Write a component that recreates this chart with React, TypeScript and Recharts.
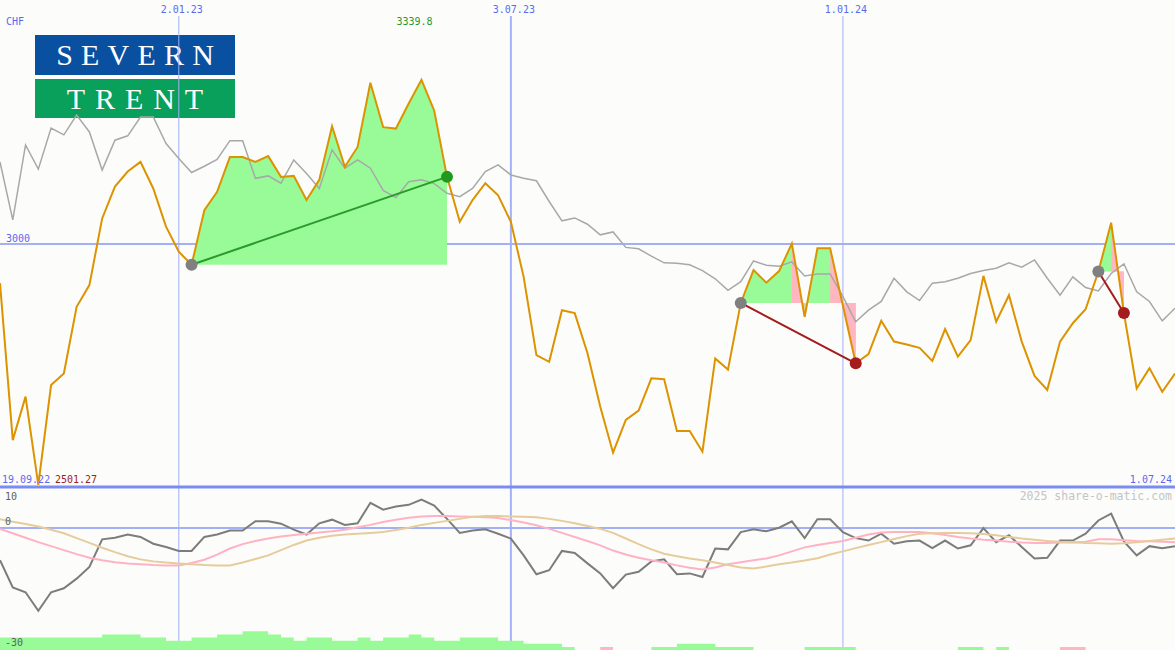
import React from "react";
import { Area, ComposedChart, Line, ReferenceLine, XAxis, YAxis } from "recharts";

// weekly closes, CHF
const price = [
  2919, 2594, 2684, 2501.27, 2708, 2732, 2870, 2915, 3053, 3119,
  3150, 3170, 3115, 3036, 2984, 2957, 3070, 3108, 3180, 3180,
  3170, 3182, 3139, 3141, 3091, 3133, 3244, 3160, 3201, 3334,
  3242, 3239, 3291, 3339.8, 3276, 3139, 3046, 3091, 3126, 3101,
  3046, 2932, 2770, 2756, 2863, 2857, 2774, 2663, 2568, 2636,
  2655, 2722, 2720, 2613, 2613, 2570, 2763, 2740, 2878, 2946,
  2920, 2944, 3001, 2849, 2991, 2991, 2872, 2753, 2772, 2841,
  2798, 2792, 2785, 2758, 2824, 2767, 2801, 2934, 2839, 2894,
  2798, 2727, 2698, 2798, 2836, 2865, 2943, 3044, 2857, 2701,
  2743, 2694, 2732,
];

// comparison index, rebased
const bench = [
  3170, 3050, 3205, 3155, 3240, 3226, 3267, 3232, 3153, 3215,
  3224, 3263, 3263, 3208, 3177, 3148, 3161, 3175, 3214, 3214,
  3136, 3141, 3126, 3174, 3146, 3115, 3195, 3157, 3174, 3157,
  3111, 3096, 3129, 3133, 3125, 3105, 3098, 3115, 3150, 3164,
  3143, 3136, 3131, 3088, 3048, 3054, 3041, 3019, 3025, 2993,
  2990, 2975, 2961, 2960, 2957, 2945, 2928, 2904, 2922, 2965,
  2956, 2954, 2963, 2934, 2938, 2938, 2891, 2839, 2863, 2881,
  2929, 2901, 2883, 2919, 2922, 2929, 2939, 2945, 2950, 2961,
  2952, 2967, 2929, 2894, 2932, 2910, 2903, 2939, 2959, 2901,
  2881, 2841, 2867,
];

const momentum = [
  -8.0, -14.8, -16.0, -20.6, -16.0, -15.0, -12.6, -9.7, -2.8, -2.4,
  -1.6, -2.2, -3.9, -4.7, -5.7, -5.7, -2.2, -1.6, -0.6, -0.6,
  1.7, 1.7, 1.1, -0.4, -1.6, 1.2, 2.1, 0.8, 1.2, 6.3,
  4.6, 5.4, 5.8, 7.1, 5.6, 2.3, -1.2, -0.6, -0.3, -1.4,
  -2.6, -6.8, -11.5, -10.5, -5.7, -6.2, -8.8, -11.3, -15.0, -11.6,
  -10.9, -8.3, -7.8, -11.5, -11.3, -12.2, -5.1, -5.3, -1.0, -0.3,
  -0.8, 0.1, 1.7, -2.5, 2.2, 2.2, -1.0, -2.5, -3.1, -1.4,
  -3.9, -3.3, -3.1, -5.0, -3.1, -5.1, -4.3, 0, -3.5, -1.8,
  -4.7, -7.6, -7.4, -3.1, -3.1, -1.4, 1.9, 3.6, -3.3, -6.8,
  -4.5, -5.0, -4.5,
];

const momFast = [
  -0.2, -1.3, -2.4, -3.5, -4.5, -5.5, -6.5, -7.4, -8.0, -8.5,
  -8.8, -9.0, -9.2, -9.3, -9.3, -8.7, -7.9, -6.6, -5.1, -4.0,
  -3.2, -2.6, -2.1, -1.7, -1.4, -1.1, -0.8, -0.4, 0.2, 0.8,
  1.5, 2.1, 2.6, 2.9, 3.0, 3.0, 2.9, 2.8, 2.7, 2.5,
  2.0, 1.4, 0.7, -0.2, -1.2, -2.2, -3.2, -4.3, -5.6, -6.6,
  -7.4, -8.0, -8.6, -9.3, -9.9, -10.3, -9.8, -9.0, -8.5, -8.0,
  -7.6, -6.8, -5.8, -4.8, -4.2, -3.7, -3.2, -2.4, -1.6, -1.1,
  -1.0, -1.0, -1.0, -1.3, -1.7, -2.2, -2.6, -2.9, -3.1, -3.4,
  -3.6, -3.7, -3.7, -3.6, -3.6, -3.4, -2.8, -2.8, -3.0, -3.2,
  -3.3, -3.4, -3.5,
];

const momSlow = [
  2.2, 1.6, 1.0, 0.4, -0.4, -1.3, -2.5, -3.7, -4.9, -6.0,
  -7.0, -7.8, -8.3, -8.6, -8.8, -9.0, -9.2, -9.3, -9.3, -8.6,
  -7.7, -6.8, -5.5, -4.2, -3.1, -2.4, -1.9, -1.6, -1.4, -1.2,
  -1.0, -0.5, 0.1, 0.8, 1.3, 1.8, 2.3, 2.8, 3.0, 3.0,
  2.9, 2.8, 2.7, 2.3, 1.8, 1.2, 0.5, -0.2, -1.2, -2.6,
  -4.0, -5.3, -6.4, -7.0, -7.6, -8.0, -8.6, -9.2, -9.8, -10.1,
  -9.6, -9.0, -8.6, -8.1, -7.5, -6.6, -5.8, -5.0, -4.2, -3.5,
  -2.7, -2.0, -1.4, -1.3, -1.2, -1.2, -1.3, -1.5, -1.8, -2.2,
  -2.6, -2.9, -3.2, -3.4, -3.5, -3.7, -3.8, -3.9, -3.8, -3.5,
  -3.2, -2.9, -2.6,
];

const volUp = [
  4, 4, 4, 4, 4, 4, 4, 4, 5, 5,
  5, 4, 4, 3, 3, 4, 4, 5, 5, 6,
  6, 5, 4, 3, 4, 4, 3, 3, 4, 3,
  4, 4, 5, 4, 3, 3, 4, 4, 4, 3,
  3, 2, 2, 2, 1, 0, 0, 0, 0, 0,
  0, 1, 1, 2, 2, 2, 1, 1, 1, 0,
  0, 0, 0, 1, 1, 1, 1, 0, 0, 0,
  0, 0, 0, 0, 0, 1, 1, 0, 1, 0,
  0, 0, 0, 0, 0, 0, 0, 0, 0, 0,
  0, 0, 0,
];

const volDown = [
  0, 0, 0, 0, 0, 0, 0, 0, 0, 0,
  0, 0, 0, 0, 0, 0, 0, 0, 0, 0,
  0, 0, 0, 0, 0, 0, 0, 0, 0, 0,
  0, 0, 0, 0, 0, 0, 0, 0, 0, 0,
  0, 0, 0, 0, 0, 0, 0, 1, 0, 0,
  0, 0, 0, 0, 0, 0, 0, 0, 0, 0,
  0, 0, 0, 0, 0, 0, 0, 0, 0, 0,
  0, 0, 0, 0, 0, 0, 0, 0, 0, 0,
  0, 0, 0, 1, 1, 0, 0, 0, 0, 0,
  0, 0, 0,
];

const dateLines = [
  { week: 14, label: "2.01.23", width: 1 },
  { week: 40, label: "3.07.23", width: 2 },
  { week: 66, label: "1.01.24", width: 1 },
];

// signal entries / exits (week index)
const trades = [
  { open: 15, close: 35 },
  { open: 58, close: 67 },
  { open: 86, close: 88 },
];

const W = 1175;
const MAIN_H = 490;
const LOW_TOP = 488;
const LOW_H = 162;
const noMargin = { top: 0, right: 0, bottom: 0, left: 0 };
const mono = '"DejaVu Sans Mono", monospace';
const blueText = "#5a6af0";
const gridBlue = "#a3b0f5";

const rows: any[] = price.map((p, i) => ({
  week: i,
  price: p,
  bench: bench[i],
  mom: momentum[i],
  fast: momFast[i],
  slow: momSlow[i],
  up: volUp[i],
  down: volDown[i],
  grid: 0.5,
  gain: null,
  loss: null,
  t0: null,
  t1: null,
  t2: null,
}));

trades.forEach((t, n) => {
  const entry = price[t.open];
  for (let i = t.open; i <= t.close; i++) {
    rows[i].gain = [entry, price[i]];
    if (i > t.open && price[i] < entry) {
      rows[i - 1].loss = [entry, price[i - 1]];
      rows[i].loss = [entry, price[i]];
    }
  }
  rows[t.open]["t" + n] = entry;
  rows[t.close]["t" + n] = price[t.close];
});

function tradeDot(open: number, color: string) {
  return (props: any) => {
    const { cx, cy, payload, index } = props;
    if (cx == null || cy == null || !Number.isFinite(cy)) return <g key={"d" + index} />;
    const isOpen = payload && payload.week === open;
    return <circle key={"d" + index} cx={cx} cy={cy} r={6} fill={isOpen ? "#808080" : color} />;
  };
}

const xAxis = <XAxis dataKey="week" type="number" domain={[0, 92]} hide allowDataOverflow />;

export default function App() {
  return (
    <div style={{ position: "absolute", left: 0, top: 0, width: W, height: 650, background: "#fcfdfb", overflow: "hidden" }}>
      <div style={{ position: "absolute", left: 35, top: 35, width: 200, height: 40, background: "#0a50a0", color: "#fff", fontFamily: '"Liberation Serif", "DejaVu Serif", serif', fontSize: 30, letterSpacing: 8.2, lineHeight: "40px", textAlign: "center", paddingLeft: 8.2, boxSizing: "border-box" }}>
        SEVERN
      </div>
      <div style={{ position: "absolute", left: 35, top: 79, width: 200, height: 39, background: "#08a05a", color: "#fff", fontFamily: '"Liberation Serif", "DejaVu Serif", serif', fontSize: 30, letterSpacing: 9.9, lineHeight: "39px", textAlign: "center", paddingLeft: 9.9, boxSizing: "border-box" }}>
        TRENT
      </div>

      {/* date grid through both panels */}
      <div style={{ position: "absolute", left: 0, top: 0 }}>
        <ComposedChart width={W} height={650} data={rows} margin={{ top: 16, right: 0, bottom: 0, left: 0 }}>
          {xAxis}
          <YAxis type="number" domain={[0, 1]} hide allowDataOverflow />
          <Line dataKey="grid" stroke="none" dot={false} activeDot={false} isAnimationActive={false} />
          {dateLines.map((d) => (
            <ReferenceLine
              key={d.label}
              x={d.week}
              stroke={gridBlue}
              strokeWidth={d.width}
              label={(p: any) => (
                <text x={p.viewBox.x + 3} y={p.viewBox.y - 3} textAnchor="middle" fontFamily={mono} fontSize={10} fill={blueText}>
                  {d.label}
                </text>
              )}
            />
          ))}
        </ComposedChart>
      </div>

      {/* price panel reference lines */}
      <div style={{ position: "absolute", left: 0, top: 0 }}>
        <ComposedChart width={W} height={MAIN_H} data={rows} margin={noMargin}>
          {xAxis}
          <YAxis type="number" domain={[2490.7, 3505.2]} hide allowDataOverflow />
          <ReferenceLine y={3000} stroke={gridBlue} strokeWidth={2} />
          <ReferenceLine y={2496.9} stroke="#7a8cf2" strokeWidth={3} />
        </ComposedChart>
      </div>

      {/* price panel series */}
      <div style={{ position: "absolute", left: 0, top: 0 }}>
        <ComposedChart width={W} height={MAIN_H} data={rows} margin={noMargin}>
          {xAxis}
          <YAxis type="number" domain={[2490.7, 3505.2]} hide allowDataOverflow />
          <Area dataKey="gain" type="linear" stroke="none" fill="#98fb98" fillOpacity={1} dot={false} activeDot={false} isAnimationActive={false} />
          <Area dataKey="loss" type="linear" stroke="none" fill="#ffb6c1" fillOpacity={1} dot={false} activeDot={false} isAnimationActive={false} />
          <Line dataKey="bench" type="linear" stroke="#a8a8a8" strokeWidth={1.5} dot={false} activeDot={false} isAnimationActive={false} />
          <Line dataKey="price" type="linear" stroke="#dd9300" strokeWidth={2} dot={false} activeDot={false} isAnimationActive={false} />
          <Line dataKey="t0" type="linear" stroke="#2a9a2a" strokeWidth={2} connectNulls dot={tradeDot(15, "#1f9a1f")} activeDot={false} isAnimationActive={false} />
          <Line dataKey="t1" type="linear" stroke="#a31b1b" strokeWidth={2} connectNulls dot={tradeDot(58, "#a51c1c")} activeDot={false} isAnimationActive={false} />
          <Line dataKey="t2" type="linear" stroke="#a31b1b" strokeWidth={2} connectNulls dot={tradeDot(86, "#a51c1c")} activeDot={false} isAnimationActive={false} />
        </ComposedChart>
      </div>

      {/* lower panel: bars and zero line */}
      <div style={{ position: "absolute", left: 0, top: LOW_TOP }}>
        <ComposedChart width={W} height={LOW_H} data={rows} margin={noMargin}>
          {xAxis}
          <YAxis yAxisId="v" type="number" domain={[0, 52]} hide allowDataOverflow />
          <YAxis yAxisId="m" type="number" domain={[-30.4, 10]} hide allowDataOverflow />
          <ReferenceLine yAxisId="m" y={0} stroke={gridBlue} strokeWidth={2} />
          <Area yAxisId="v" dataKey="up" type="stepAfter" stroke="none" fill="#98fb98" fillOpacity={1} isAnimationActive={false} />
          <Area yAxisId="v" dataKey="down" type="stepAfter" stroke="none" fill="#ffb6c1" fillOpacity={1} isAnimationActive={false} />
        </ComposedChart>
      </div>

      {/* lower panel: momentum lines */}
      <div style={{ position: "absolute", left: 0, top: LOW_TOP }}>
        <ComposedChart width={W} height={LOW_H} data={rows} margin={noMargin}>
          {xAxis}
          <YAxis type="number" domain={[-30.4, 10]} hide allowDataOverflow />
          <Line dataKey="mom" type="linear" stroke="#7c7c7c" strokeWidth={2} dot={false} activeDot={false} isAnimationActive={false} />
          <Line dataKey="fast" type="linear" stroke="#ffb2c4" strokeWidth={2} dot={false} activeDot={false} isAnimationActive={false} />
          <Line dataKey="slow" type="linear" stroke="#e6cc9c" strokeWidth={2} dot={false} activeDot={false} isAnimationActive={false} />
        </ComposedChart>
      </div>

      <svg width={W} height={650} style={{ position: "absolute", left: 0, top: 0, pointerEvents: "none" }} fontFamily={mono} fontSize={10}>
        <text x={6} y={25} fill={blueText}>CHF</text>
        <text x={414.5} y={25} textAnchor="middle" fill="#2b962b">3339.8</text>
        <text x={6} y={242} fill={blueText}>3000</text>
        <text x={2} y={483} fill={blueText}>19.09.22</text>
        <text x={55} y={483} fill="#a02020">2501.27</text>
        <text x={1172} y={483} textAnchor="end" fill={blueText}>1.07.24</text>
        <text x={1172} y={500} textAnchor="end" fill="#c4c4c4" fontSize={11.5}>2025 share-o-matic.com</text>
        <text x={5} y={500} fill="#606060">10</text>
        <text x={5} y={525} fill="#606060">0</text>
        <text x={5} y={646} fill="#606060">-30</text>
      </svg>
    </div>
  );
}
